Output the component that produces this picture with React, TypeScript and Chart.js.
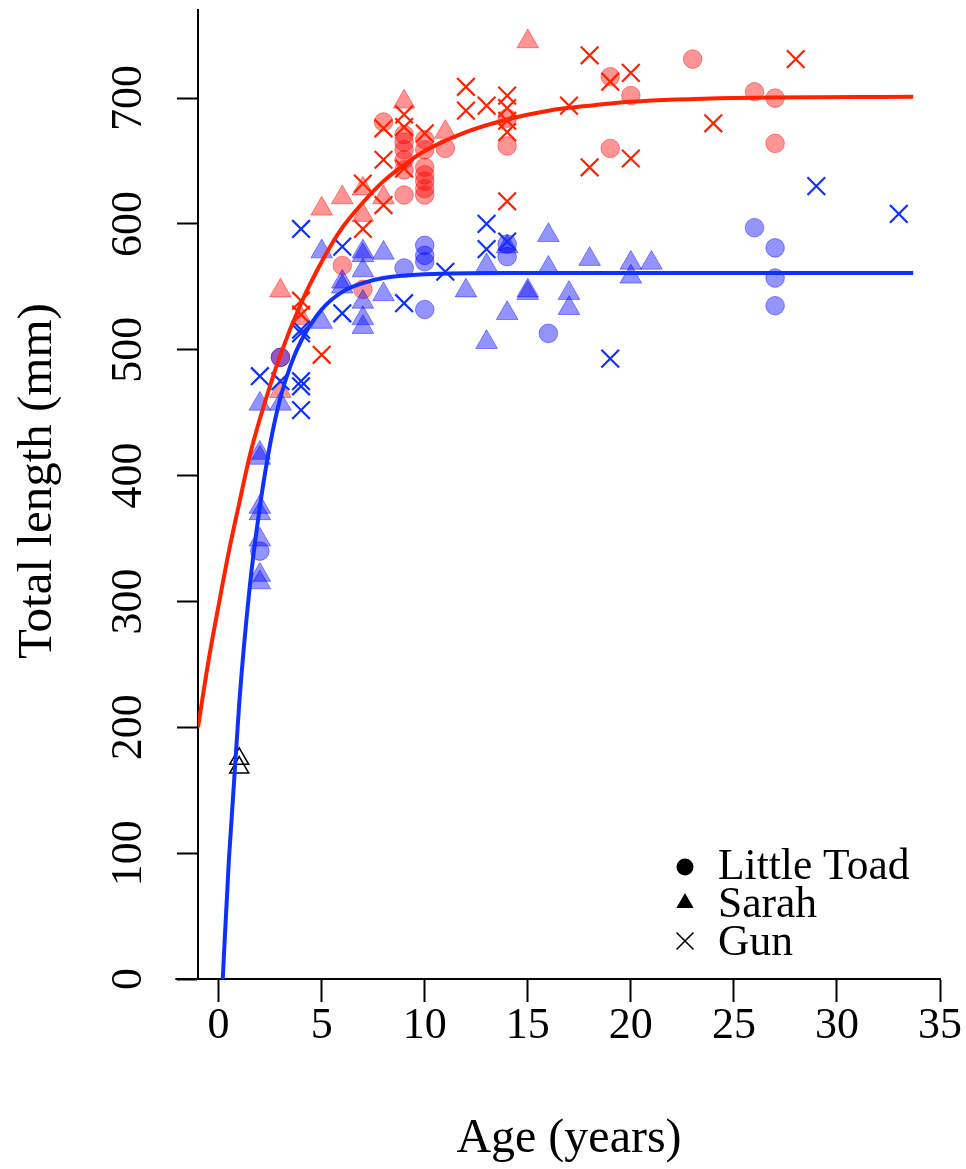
import React, { useEffect, useRef } from "react";
import { Chart, registerables } from "chart.js";

Chart.register(...registerables);

const xTickValues = [0, 5, 10, 15, 20, 25, 30, 35];
const yTickValues = [0, 100, 200, 300, 400, 500, 600, 700];
const xTitle = "Age (years)";
const yTitle = "Total length (mm)";
const legendLabels = ["Little Toad", "Sarah", "Gun"];

// Red (female) — Little Toad (circles)
const redToadAges = [3, 6, 7, 8, 9, 9, 9, 9, 9, 9, 10, 10, 10, 10, 10, 10, 10, 11, 14, 14, 19, 19, 20, 23, 26, 27, 27];
const redToadLengths = [494, 567, 548, 681, 671, 665, 659, 651, 643, 623, 667, 659, 645, 639, 634, 628, 623, 660, 684, 662, 717, 660, 702, 731, 705, 700, 664];
// Red — Sarah (triangles)
const redSarahAges = [3, 3, 4, 5, 6, 7, 7, 8, 9, 11, 15];
const redSarahLengths = [547, 467, 525, 612, 621, 628, 607, 621, 697, 673, 745];
// Red — Gun (crosses)
const redGunAges = [4, 4, 5, 7, 7, 8, 8, 8, 9, 9, 9, 10, 12, 12, 13, 14, 14, 14, 14, 14, 17, 18, 18, 19, 20, 20, 24, 28];
const redGunLengths = [539, 528, 496, 632, 596, 676, 651, 615, 687, 677, 644, 672, 709, 690, 694, 702, 692, 682, 673, 618, 694, 734, 645, 713, 720, 652, 680, 731];

// Blue (male) — Little Toad
const blueToadAges = [2, 3, 9, 10, 10, 10, 10, 14, 14, 16, 26, 27, 27, 27];
const blueToadLengths = [340, 494, 565, 583, 575, 570, 532, 584, 574, 513, 597, 581, 557, 535];
// Blue — Sarah
const blueSarahAges = [2, 2, 2, 2, 2, 2, 2, 2, 3, 5, 5, 6, 6, 7, 7, 7, 7, 7, 7, 8, 8, 12, 13, 13, 14, 14, 15, 15, 16, 16, 17, 17, 18, 20, 20, 21];
const blueSarahLengths = [457, 418, 414, 375, 370, 349, 321, 315, 457, 578, 522, 554, 550, 578, 575, 563, 538, 525, 518, 577, 544, 547, 567, 506, 582, 529, 547, 545, 591, 565, 545, 533, 572, 569, 558, 569];
// Blue — Gun
const blueGunAges = [2, 3, 4, 4, 4, 4, 4, 4, 6, 6, 9, 11, 13, 13, 14, 19, 29, 33];
const blueGunLengths = [479, 475, 596, 516, 513, 475, 471, 452, 582, 529, 537, 562, 600, 580, 586, 493, 630, 608];

// Unknown sex juveniles (open black triangles)
const juvenileAges = [1, 1];
const juvenileLengths = [175, 168];

// Growth curves
const redCurveAges = [-1, -0.5, 0, 0.5, 1, 1.5, 2, 3, 4, 5, 6, 7, 8, 9, 10, 12, 14, 16, 18, 20, 25, 33.7];
const redCurveLengths = [200, 252, 297, 340, 378, 415, 445, 496, 537, 570, 597, 617, 634, 647, 658, 673, 683, 690, 694, 697, 700, 701];
const blueCurveAges = [0.2, 0.5, 1, 1.5, 2, 2.5, 3, 3.5, 4, 5, 6, 7, 8, 10, 14, 20, 33.7];
const blueCurveLengths = [0, 95, 219, 310, 375, 425, 462, 488, 507, 532, 546, 553, 557, 560, 561, 561, 561];

const FONT = "'Liberation Serif', 'Times New Roman', serif";
const RED_FILL = "rgba(255,0,0,0.42)";
const BLUE_FILL = "rgba(0,0,255,0.42)";
const RED_LINE = "#ff2200";
const BLUE_LINE = "#1030ff";

function pts(ages: number[], lengths: number[]) {
  return ages.map((a, i) => ({ x: a, y: lengths[i] }));
}

export default function App() {
  const ref = useRef<HTMLCanvasElement>(null);

  useEffect(() => {
    const canvas = ref.current!;
    const overlay = {
      id: "overlay",
      afterDraw(chart: any) {
        const ctx = chart.ctx as CanvasRenderingContext2D;
        const xs = chart.scales.x;
        const ys = chart.scales.y;
        ctx.save();
        // left extension of x axis line
        ctx.strokeStyle = "#000";
        ctx.lineWidth = 2;
        const y0 = ys.getPixelForValue(0);
        ctx.beginPath();
        ctx.moveTo(xs.getPixelForValue(-2.1), y0);
        ctx.lineTo(xs.left, y0);
        ctx.stroke();

        // y tick labels (rotated, R style)
        ctx.fillStyle = "#000";
        ctx.font = `44px ${FONT}`;
        ctx.textAlign = "center";
        ctx.textBaseline = "middle";
        yTickValues.forEach((v) => {
          const y = ys.getPixelForValue(v);
          ctx.save();
          ctx.translate(129, y);
          ctx.rotate(-Math.PI / 2);
          ctx.fillText(String(v), 0, 0);
          ctx.restore();
        });

        // axis titles
        ctx.font = `49px ${FONT}`;
        ctx.save();
        ctx.translate(38, 481);
        ctx.rotate(-Math.PI / 2);
        ctx.fillText(yTitle, 0, 0);
        ctx.restore();
        ctx.font = `48px ${FONT}`;
        ctx.fillText(xTitle, (xs.left + xs.right) / 2, 1139);

        // legend
        const lx = 685;
        const rows = [867, 903, 941];
        const bases = [879, 917, 955];
        ctx.fillStyle = "#000";
        ctx.strokeStyle = "#000";
        ctx.beginPath();
        ctx.arc(lx, rows[0], 8.5, 0, Math.PI * 2);
        ctx.fill();
        const r = 10;
        ctx.beginPath();
        for (let k = 0; k < 3; k++) {
          const a = (k * 2 * Math.PI) / 3;
          const px = lx + Math.sin(a) * r;
          const py = rows[1] - Math.cos(a) * r;
          if (k === 0) ctx.moveTo(px, py);
          else ctx.lineTo(px, py);
        }
        ctx.closePath();
        ctx.fill();
        const h = 8.5;
        ctx.lineWidth = 1.6;
        ctx.beginPath();
        ctx.moveTo(lx - h, rows[2] - h);
        ctx.lineTo(lx + h, rows[2] + h);
        ctx.moveTo(lx + h, rows[2] - h);
        ctx.lineTo(lx - h, rows[2] + h);
        ctx.stroke();
        ctx.font = `43.5px ${FONT}`;
        ctx.textAlign = "left";
        ctx.textBaseline = "alphabetic";
        legendLabels.forEach((t, i) => ctx.fillText(t, 718, bases[i]));
        ctx.restore();
      },
    };

    const filled = (data: any[], style: string, fill: string, radius: number, order: number) => ({
      type: "scatter" as const,
      data,
      pointStyle: style,
      pointRadius: radius,
      pointHoverRadius: radius,
      pointBackgroundColor: fill,
      pointBorderColor: fill,
      pointBorderWidth: 1,
      showLine: false,
      order,
    });
    const cross = (data: any[], color: string, order: number) => ({
      type: "scatter" as const,
      data,
      pointStyle: "crossRot",
      pointRadius: 12.5,
      pointHoverRadius: 12.5,
      pointBorderColor: color,
      pointBackgroundColor: color,
      pointBorderWidth: 2.2,
      showLine: false,
      order,
    });
    const curve = (data: any[], color: string, order: number) => ({
      type: "scatter" as const,
      data,
      showLine: true,
      borderColor: color,
      borderWidth: 4,
      pointRadius: 0,
      pointHoverRadius: 0,
      cubicInterpolationMode: "monotone" as const,
      fill: false,
      order,
    });

    const chart = new Chart(canvas, {
      type: "scatter",
      data: {
        datasets: [
          curve(pts(redCurveAges, redCurveLengths), RED_LINE, 0),
          curve(pts(blueCurveAges, blueCurveLengths), BLUE_LINE, 1),
          {
            type: "scatter",
            data: pts(juvenileAges, juvenileLengths),
            pointStyle: "triangle",
            pointRadius: 11,
            pointBackgroundColor: "rgba(0,0,0,0)",
            pointBorderColor: "#000",
            pointBorderWidth: 1.5,
            showLine: false,
            order: 2,
          } as any,
          cross(pts(blueGunAges, blueGunLengths), BLUE_LINE, 3),
          cross(pts(redGunAges, redGunLengths), RED_LINE, 4),
          filled(pts(blueSarahAges, blueSarahLengths), "triangle", BLUE_FILL, 12.5, 5),
          filled(pts(blueToadAges, blueToadLengths), "circle", BLUE_FILL, 9.3, 6),
          filled(pts(redSarahAges, redSarahLengths), "triangle", RED_FILL, 12.5, 7),
          filled(pts(redToadAges, redToadLengths), "circle", RED_FILL, 9.3, 8),
        ] as any,
      },
      options: {
        responsive: false,
        animation: false,
        events: [],
        layout: { autoPadding: false, padding: { top: 10, right: 26, left: 0, bottom: 0 } },
        plugins: { legend: { display: false }, tooltip: { enabled: false } },
        scales: {
          x: {
            type: "linear",
            min: -1,
            max: 35,
            afterBuildTicks: (s: any) => {
              s.ticks = xTickValues.map((v) => ({ value: v }));
            },
            afterFit: (s: any) => {
              s.height = 190;
            },
            grid: {
              display: true,
              drawOnChartArea: false,
              drawTicks: true,
              tickLength: 23,
              tickColor: "#000",
              tickWidth: 2,
              color: "#000",
            },
            border: { display: true, color: "#000", width: 2 },
            ticks: {
              color: "#000",
              padding: 0,
              maxRotation: 0,
              autoSkip: false,
              font: { family: FONT, size: 44, lineHeight: 1.1 },
            },
          },
          y: {
            type: "linear",
            min: 0,
            max: 770,
            afterBuildTicks: (s: any) => {
              s.ticks = yTickValues.map((v) => ({ value: v }));
            },
            afterFit: (s: any) => {
              s.width = 198;
            },
            grid: {
              display: true,
              drawOnChartArea: false,
              drawTicks: true,
              tickLength: 21,
              tickColor: "#000",
              tickWidth: 2,
              color: "#000",
            },
            border: { display: true, color: "#000", width: 2 },
            ticks: { display: false },
          },
        },
      },
      plugins: [overlay],
    } as any);
    return () => chart.destroy();
  }, []);

  return (
    <div style={{ position: "fixed", left: 0, top: 0, width: 966, height: 1169, background: "#fff" }}>
      <canvas ref={ref} width={966} height={1169} style={{ display: "block" }} />
    </div>
  );
}
